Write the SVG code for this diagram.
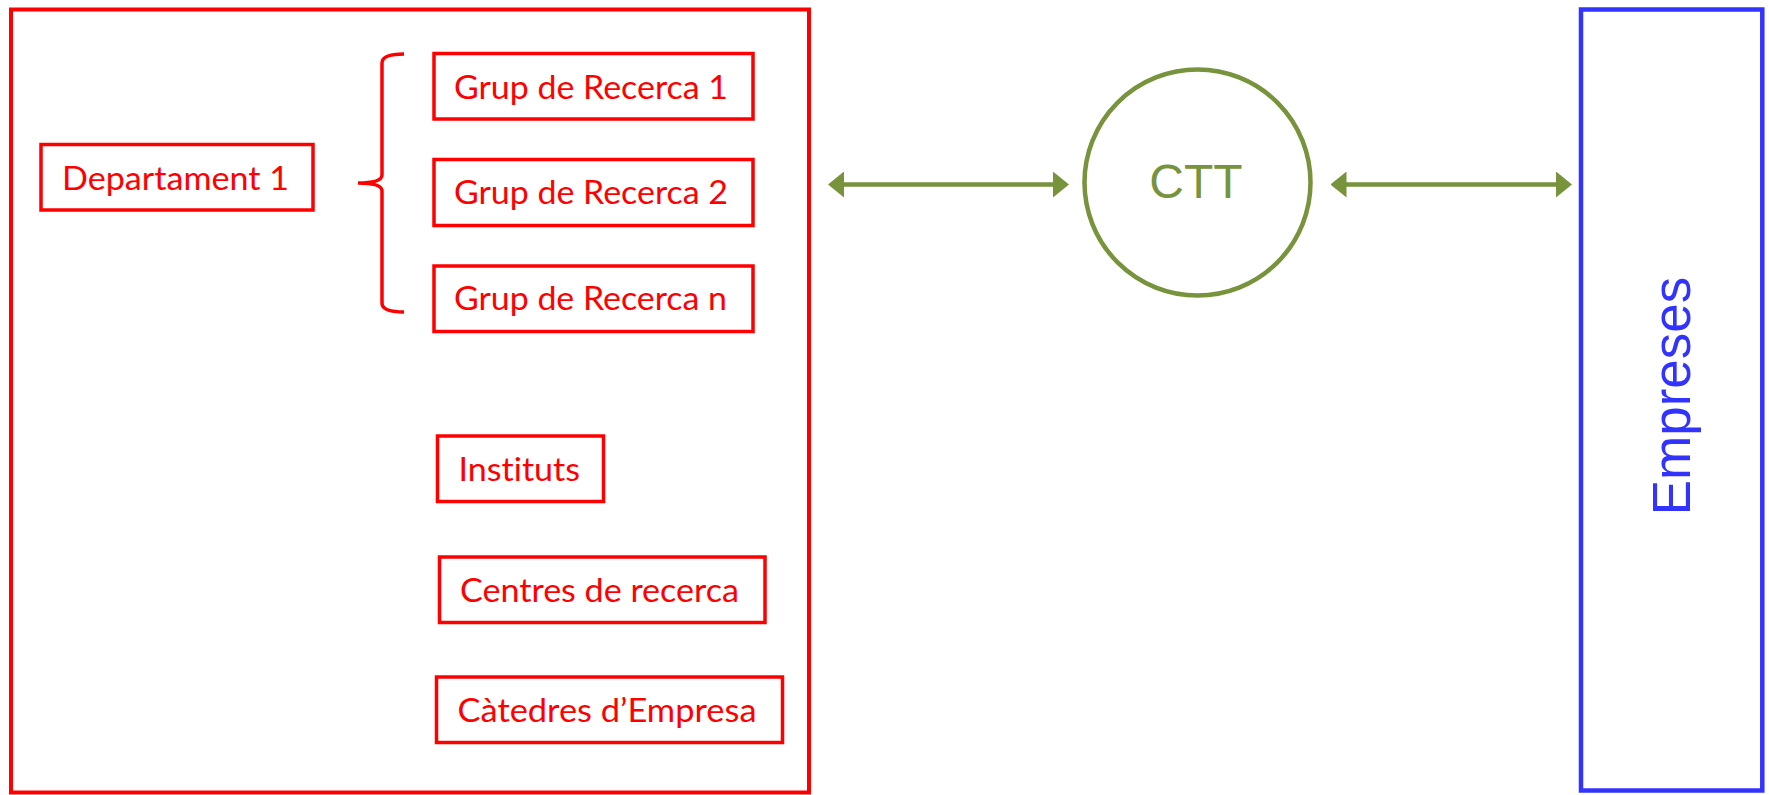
<svg xmlns="http://www.w3.org/2000/svg" width="1769" height="795" viewBox="0 0 1769 795">
<style>
.red{fill:none;stroke:#FF0000;stroke-width:3.5}
.lbl{font-family:Lato,"Liberation Sans",sans-serif;font-size:33px;fill:#FF0000;font-variant-ligatures:none}
.olive{stroke:#77933C;fill:none}
</style>
<defs>
<marker id="ah" viewBox="0 -13 16 26" refX="6" refY="0" markerWidth="16" markerHeight="26" markerUnits="userSpaceOnUse" orient="auto-start-reverse">
<path d="M0,-13 L16,0 L0,13 z" fill="#77933C"/>
</marker>
</defs>
<rect width="1769" height="795" fill="#FFFFFF"/>
<g id="universitat">
<rect x="11" y="9.5" width="798" height="783" fill="none" stroke="#FF0000" stroke-width="4"/>
</g>
<g id="departament1">
<rect class="red" x="41" y="144.5" width="272" height="65.5"/>
<text class="lbl" x="62" y="190" textLength="227" lengthAdjust="spacingAndGlyphs">Departament 1</text>
</g>
<g id="grup1">
<rect class="red" x="434" y="53.5" width="319" height="65.5"/>
<text class="lbl" x="454" y="98.5" textLength="274" lengthAdjust="spacingAndGlyphs">Grup de Recerca 1</text>
</g>
<g id="grup2">
<rect class="red" x="434" y="159.5" width="319" height="66"/>
<text class="lbl" x="454" y="204" textLength="274" lengthAdjust="spacingAndGlyphs">Grup de Recerca 2</text>
</g>
<g id="grupn">
<rect class="red" x="434" y="266" width="319" height="65.5"/>
<text class="lbl" x="454" y="310" textLength="273" lengthAdjust="spacingAndGlyphs">Grup de Recerca n</text>
</g>
<g id="instituts">
<rect class="red" x="437.5" y="436" width="166" height="65.5"/>
<text class="lbl" x="458.5" y="481" textLength="121.5" lengthAdjust="spacingAndGlyphs">Instituts</text>
</g>
<g id="centres">
<rect class="red" x="439.5" y="557" width="325.5" height="65.5"/>
<text class="lbl" x="460" y="601.5" textLength="279" lengthAdjust="spacingAndGlyphs">Centres de recerca</text>
</g>
<g id="catedres">
<rect class="red" x="436.5" y="677" width="346" height="65.5"/>
<text class="lbl" x="457.5" y="721.5" textLength="299" lengthAdjust="spacingAndGlyphs">Càtedres d’Empresa</text>
</g>
<g id="ctt">
<circle cx="1197.5" cy="182.5" r="113" fill="none" stroke="#77933C" stroke-width="4.5"/>
<text x="1196" y="197.5" text-anchor="middle" font-family="'Liberation Sans',Arial,sans-serif" font-size="48" fill="#77933C">CTT</text>
</g>
<g id="empreses">
<rect x="1581" y="9.5" width="181.3" height="781" fill="none" stroke="#3333FF" stroke-width="4.5"/>
<text transform="translate(1689.5,396) rotate(-90)" text-anchor="middle" font-family="'Liberation Sans',Arial,sans-serif" font-size="53" fill="#3333FF">Empreses</text>
</g>
<g id="connectors">
<path d="M404,54 Q382,54 382,63 L382,175 Q382,183 358,183 Q382,183 382,191 L382,303 Q382,312 404,312" fill="none" stroke="#FF0000" stroke-width="3.5"/>
<path class="olive" d="M838,184.5 L1059,184.5" stroke-width="4.5" marker-start="url(#ah)" marker-end="url(#ah)"/>
<path class="olive" d="M1340.5,184.5 L1562,184.5" stroke-width="4.5" marker-start="url(#ah)" marker-end="url(#ah)"/>
</g>
</svg>
